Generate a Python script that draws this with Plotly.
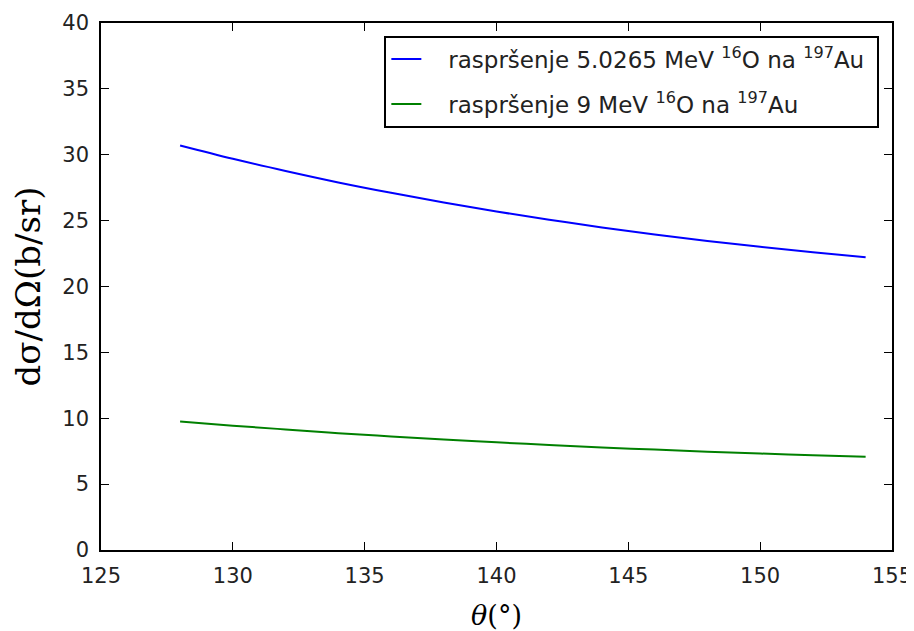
import plotly.graph_objects as go

theta = [128, 130, 132, 134, 136, 138, 140, 142, 144, 146, 148, 150, 152, 154]
sigma_5 = [30.70, 29.69, 28.77, 27.90, 27.11, 26.37, 25.69, 25.07, 24.48, 23.95, 23.46, 23.01, 22.60, 22.22]
sigma_9 = [9.76, 9.44, 9.15, 8.87, 8.62, 8.39, 8.17, 7.97, 7.78, 7.62, 7.46, 7.32, 7.19, 7.07]

x_ticks = [125, 130, 135, 140, 145, 150, 155]
y_ticks = [0, 5, 10, 15, 20, 25, 30, 35, 40]

fig = go.Figure()
fig.add_trace(go.Scatter(x=theta, y=sigma_5, mode="lines", line=dict(color="#0000ff", width=2, shape="spline"),
                         name="&nbsp;&nbsp;&nbsp;raspršenje 5.0265 MeV <sup>16</sup>O na <sup>197</sup>Au&nbsp;",
                         legendgroup="a"))
fig.add_trace(go.Scatter(x=theta, y=sigma_9, mode="lines", line=dict(color="#008000", width=2, shape="spline"),
                         name="&nbsp;&nbsp;&nbsp;raspršenje 9 MeV <sup>16</sup>O na <sup>197</sup>Au",
                         legendgroup="b"))

axis_common = dict(showgrid=False, zeroline=False, showline=True, linecolor="black", linewidth=1.5,
                   mirror="ticks", ticks="inside", ticklen=8, tickcolor="black", tickwidth=1,
                   automargin=False, ticklabeloverflow="allow", ticklabelstandoff=6,
                   tickfont=dict(family="DejaVu Sans", size=21, color="#222222"))
fig.update_xaxes(range=[125, 155], tickvals=x_ticks, **axis_common,
                 title=dict(text="<i>θ</i>(°)", font=dict(family="DejaVu Serif", size=27, color="black"), standoff=22))
fig.update_yaxes(range=[0, 40], tickvals=y_ticks, **axis_common,
                 title=dict(text="dσ/dΩ(b/sr)", font=dict(family="DejaVu Serif", size=34, color="black"), standoff=14))

fig.update_layout(
    width=906, height=623,
    margin=dict(l=93, r=22, t=15, b=81),
    plot_bgcolor="white", paper_bgcolor="white",
    legend=dict(x=0.984, y=0.976, xanchor="right", yanchor="top", bordercolor="black", borderwidth=2,
                bgcolor="white", font=dict(family="DejaVu Sans", size=23, color="#222222"),
                tracegroupgap=12, itemwidth=30),
)
fig.write_html("out.html")
